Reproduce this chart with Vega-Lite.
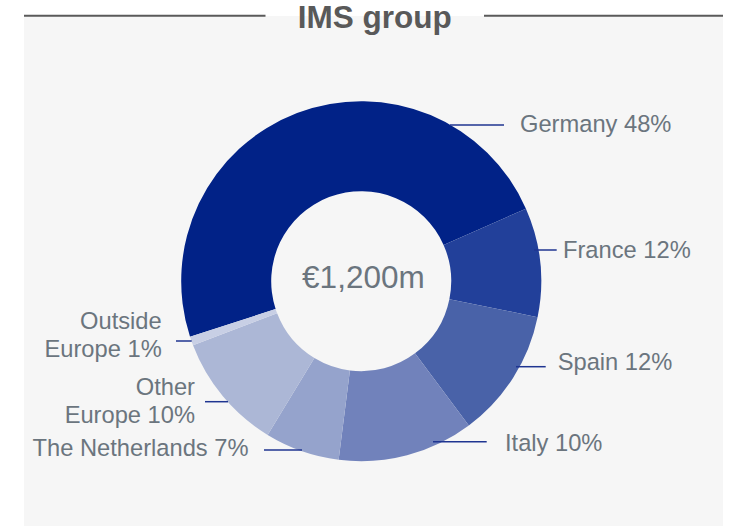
{
  "$schema": "https://vega.github.io/schema/vega-lite/v6.json",
  "width": 699,
  "height": 510,
  "autosize": {"type": "none"},
  "padding": {"left": 24, "right": 10, "top": 16, "bottom": 0},
  "background": "#ffffff",
  "config": {
    "view": {"fill": "#f6f6f6", "stroke": null},
    "font": "Liberation Sans"
  },
  "datasets": {
    "slices": [
      {"region": "Germany", "share": 48.4, "label": "Germany 48%", "order": 1},
      {"region": "France", "share": 9.8, "label": "France 12%", "order": 2},
      {"region": "Spain", "share": 11.6, "label": "Spain 12%", "order": 3},
      {"region": "Italy", "share": 12.2, "label": "Italy 10%", "order": 4},
      {"region": "The Netherlands", "share": 6.7, "label": "The Netherlands 7%", "order": 5},
      {"region": "Other Europe", "share": 10.5, "label": "Other\nEurope 10%", "order": 6},
      {"region": "Outside Europe", "share": 0.8, "label": "Outside\nEurope 1%", "order": 7}
    ],
    "leaders": [
      {"region": "Germany", "label": "Germany 48%", "side": "right", "lx": 88.8, "lx2": 142.8, "ly": 156.2, "tx": 158.8, "ty": 156.5},
      {"region": "France", "label": "France 12%", "side": "right", "lx": 172.8, "lx2": 195.5, "ly": 31.2, "tx": 201.8, "ty": 29.9},
      {"region": "Spain", "label": "Spain 12%", "side": "right", "lx": 154.8, "lx2": 184.5, "ly": -85.5, "tx": 196.5, "ty": -81.5},
      {"region": "Italy", "label": "Italy 10%", "side": "right", "lx": 71.8, "lx2": 125.5, "ly": -160.5, "tx": 143.8, "ty": -162.8},
      {"region": "The Netherlands", "label": "The Netherlands 7%", "side": "left", "lx": -97.2, "lx2": -59.2, "ly": -168.8, "tx": -112.7, "ty": -167.3},
      {"region": "Other Europe", "label": "Other\nEurope 10%", "side": "left", "lx": -156.2, "lx2": -133.2, "ly": -120.5, "tx": -166.2, "ty": -106.8},
      {"region": "Outside Europe", "label": "Outside\nEurope 1%", "side": "left", "lx": -185.2, "lx2": -169.5, "ly": -59.8, "tx": -199.5, "ty": -40.5}
    ],
    "titlebar": [
      {"x": -337.2, "x2": -95.7, "y": 265.4},
      {"x": 122.8, "x2": 361.8, "y": 265.4}
    ],
    "texts": [
      {"text": "IMS group", "x": 13.5, "y": 262.0, "kind": "title"},
      {"text": "€1,200m", "x": 2.2, "y": 2.2, "kind": "total"}
    ]
  },
  "layer": [
    {
      "data": {"name": "slices"},
      "mark": {"type": "arc", "radius": 180, "radius2": 90},
      "encoding": {
        "theta": {"field": "share", "type": "quantitative", "stack": true, "scale": {"range": [4.3982, 10.6814]}},
        "order": {"field": "order", "type": "quantitative"},
        "color": {
          "field": "region",
          "type": "nominal",
          "scale": {
            "domain": ["Germany", "France", "Spain", "Italy", "The Netherlands", "Other Europe", "Outside Europe"],
            "range": ["#012287", "#22409a", "#4962a8", "#7182bb", "#95a3cc", "#acb7d6", "#c8cfe5"]
          },
          "legend": null
        },
        "x": {"datum": 0, "type": "quantitative", "scale": {"domain": [-337.2, 361.8], "nice": false, "zero": false}, "axis": null},
        "y": {"datum": 0, "type": "quantitative", "scale": {"domain": [-244.8, 265.2], "nice": false, "zero": false}, "axis": null}
      }
    },
    {
      "data": {"name": "leaders"},
      "mark": {"type": "rule", "color": "#1f3591", "strokeWidth": 1.5},
      "encoding": {
        "x": {"field": "lx", "type": "quantitative", "scale": {"domain": [-337.2, 361.8], "nice": false, "zero": false}, "axis": null},
        "x2": {"field": "lx2"},
        "y": {"field": "ly", "type": "quantitative", "scale": {"domain": [-244.8, 265.2], "nice": false, "zero": false}, "axis": null}
      }
    },
    {
      "data": {"name": "leaders"},
      "transform": [{"filter": "datum.side === 'right'"}],
      "mark": {"type": "text", "align": "left", "baseline": "middle", "fontSize": 23.7, "color": "#6b757e", "lineBreak": "\n", "lineHeight": 28.3},
      "encoding": {
        "text": {"field": "label", "type": "nominal"},
        "x": {"field": "tx", "type": "quantitative", "scale": {"domain": [-337.2, 361.8], "nice": false, "zero": false}, "axis": null},
        "y": {"field": "ty", "type": "quantitative", "scale": {"domain": [-244.8, 265.2], "nice": false, "zero": false}, "axis": null}
      }
    },
    {
      "data": {"name": "leaders"},
      "transform": [{"filter": "datum.side === 'left'"}],
      "mark": {"type": "text", "align": "right", "baseline": "middle", "fontSize": 23.7, "color": "#6b757e", "lineBreak": "\n", "lineHeight": 28.3},
      "encoding": {
        "text": {"field": "label", "type": "nominal"},
        "x": {"field": "tx", "type": "quantitative", "scale": {"domain": [-337.2, 361.8], "nice": false, "zero": false}, "axis": null},
        "y": {"field": "ty", "type": "quantitative", "scale": {"domain": [-244.8, 265.2], "nice": false, "zero": false}, "axis": null}
      }
    },
    {
      "data": {"name": "titlebar"},
      "mark": {"type": "rule", "color": "#5a5a5a", "strokeWidth": 2},
      "encoding": {
        "x": {"field": "x", "type": "quantitative", "scale": {"domain": [-337.2, 361.8], "nice": false, "zero": false}, "axis": null},
        "x2": {"field": "x2"},
        "y": {"field": "y", "type": "quantitative", "scale": {"domain": [-244.8, 265.2], "nice": false, "zero": false}, "axis": null}
      }
    },
    {
      "data": {"name": "texts"},
      "transform": [{"filter": "datum.kind === 'title'"}],
      "mark": {"type": "text", "align": "center", "baseline": "middle", "fontSize": 31.5, "fontWeight": "bold", "color": "#595959"},
      "encoding": {
        "text": {"field": "text", "type": "nominal"},
        "x": {"field": "x", "type": "quantitative", "scale": {"domain": [-337.2, 361.8], "nice": false, "zero": false}, "axis": null},
        "y": {"field": "y", "type": "quantitative", "scale": {"domain": [-244.8, 265.2], "nice": false, "zero": false}, "axis": null}
      }
    },
    {
      "data": {"name": "texts"},
      "transform": [{"filter": "datum.kind === 'total'"}],
      "mark": {"type": "text", "align": "center", "baseline": "middle", "fontSize": 31.5, "color": "#6b757e"},
      "encoding": {
        "text": {"field": "text", "type": "nominal"},
        "x": {"field": "x", "type": "quantitative", "scale": {"domain": [-337.2, 361.8], "nice": false, "zero": false}, "axis": null},
        "y": {"field": "y", "type": "quantitative", "scale": {"domain": [-244.8, 265.2], "nice": false, "zero": false}, "axis": null}
      }
    }
  ]
}
